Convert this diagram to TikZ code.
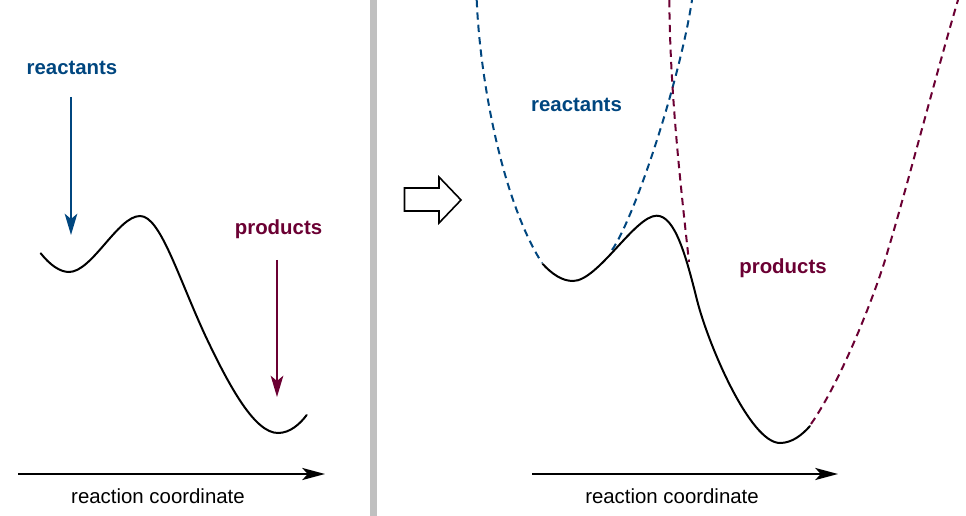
\documentclass[tikz,border=0pt]{standalone}
\usepackage{fontspec}
\setmainfont{Liberation Sans}
\usetikzlibrary{arrows.meta}
\definecolor{rblue}{RGB}{0,70,127}
\definecolor{pmaroon}{RGB}{107,0,51}
\definecolor{sepgray}{RGB}{192,192,192}
\begin{document}
\begin{tikzpicture}[x=0.75pt,y=-0.75pt,
  lbl/.style={font=\fontsize{15.3}{18}\selectfont\bfseries, inner sep=0pt},
  axlbl/.style={font=\fontsize{15.3}{18}\selectfont, inner sep=0pt},
  curve/.style={line width=1.5pt, line cap=round},
  dcurve/.style={line width=1.5pt, dash pattern=on 5.5pt off 3.8pt},
  axis/.style={line width=1.8pt, -{Stealth[length=17pt, width=9pt, inset=4pt]}},
  marker/.style={line width=1.1pt, -{Stealth[length=16pt, width=9.5pt, inset=4pt]}}]
\useasboundingbox (0,0) rectangle (966,516);
% separator
\fill[sepgray] (370,0) rectangle (377,516);

% ---------- left panel ----------
\node[lbl, text=rblue] (rl) at (72,68) {reactants};
\node[lbl, text=pmaroon] (pl) at (278.5,229) {products};
\coordinate (rlA) at (71,97);
\coordinate (rlB) at (71,235);
\coordinate (plA) at (277,260);
\coordinate (plB) at (277,397);
\draw[marker, rblue] (rlA) -- (rlB);
\draw[marker, pmaroon] (plA) -- (plB);
\draw[curve] (40.7,253.3) .. controls (50,265) and (60,272) .. (69,272)
  .. controls (92,272) and (118,216) .. (140,216)
  .. controls (160,216) and (177,274) .. (205,335)
  .. controls (230,388) and (255,433) .. (278,433)
  .. controls (290,433) and (300,424) .. (306.7,415);
\coordinate (axLA) at (18,474);
\coordinate (axLB) at (325,474);
\draw[axis] (axLA) -- (axLB);
\node[axlbl] (xl) at (158,496) {reaction coordinate};

% ---------- hollow arrow ----------
\draw[line width=1.2pt, line join=miter] (404.5,188) -- (439,188) -- (439,177) -- (461,200) -- (439,223) -- (439,211) -- (404.5,211) -- cycle;

% ---------- right panel ----------
\node[lbl, text=rblue] (rr) at (576.5,105) {reactants};
\node[lbl, text=pmaroon] (pr) at (783,268) {products};
\draw[dcurve, rblue] (476.7,0) .. controls (480,80) and (502,200) .. (542,263);
\draw[dcurve, rblue] (612,250) .. controls (635,217) and (680,80) .. (692,0);
\draw[dcurve, pmaroon] (669.3,0) .. controls (670,90) and (680,180) .. (689,262);
\draw[dcurve, pmaroon] (811,424) .. controls (845,375) and (880,280) .. (888,250)
  .. controls (902,205) and (940,60) .. (958,0);
\draw[curve] (542.7,264) .. controls (552,274) and (562,281) .. (573,281)
  .. controls (598,281) and (635,215.7) .. (656.7,215.7)
  .. controls (675,215.7) and (686,256) .. (697,300)
  .. controls (708,344) and (750,443) .. (780,443)
  .. controls (792,443) and (802,435) .. (810,426);
\coordinate (axRA) at (532,474);
\coordinate (axRB) at (838,474);
\draw[axis] (axRA) -- (axRB);
\node[axlbl] (xr) at (672,496) {reaction coordinate};
\end{tikzpicture}
\end{document}
